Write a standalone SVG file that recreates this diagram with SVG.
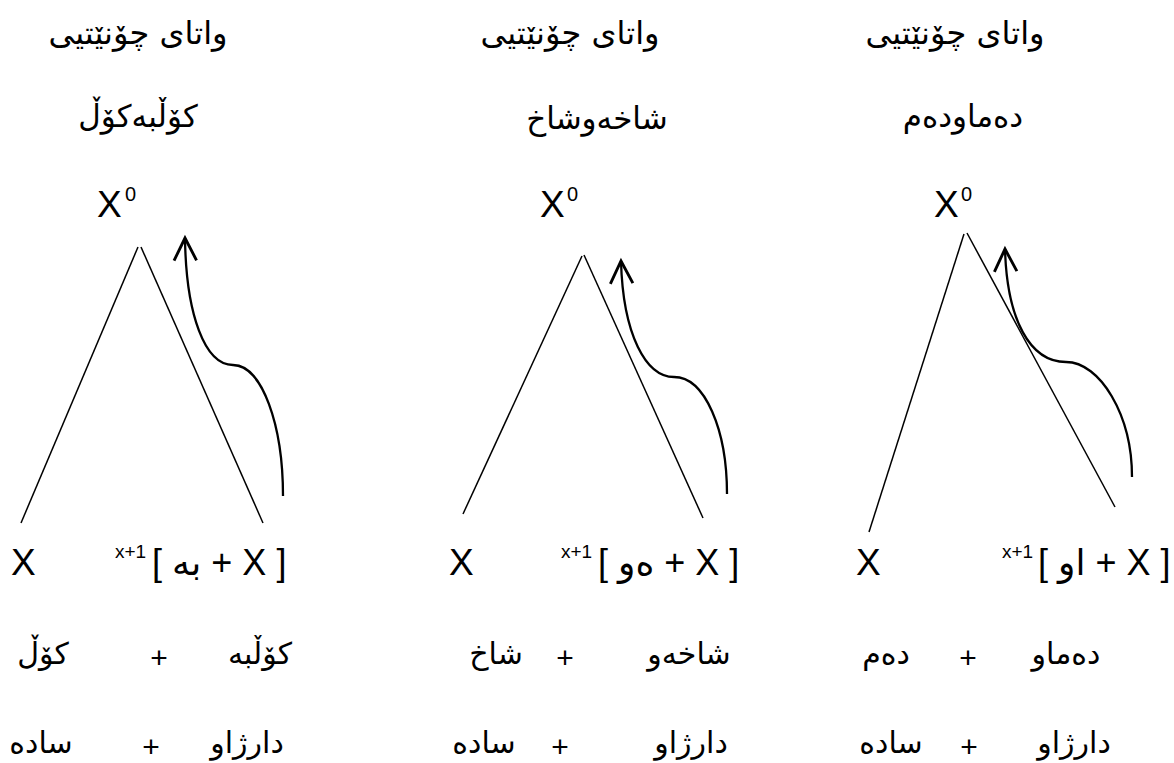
<svg xmlns="http://www.w3.org/2000/svg" width="1174" height="763" viewBox="0 0 1174 763">
<style>
.ar{font-family:"DejaVu Sans","Noto Sans",sans-serif;font-size:30px;fill:#000;direction:rtl;text-anchor:middle}
.tt{font-size:32px}
.st{font-size:31px}
.big{font-family:"Liberation Sans","DejaVu Sans",sans-serif;font-size:37px;fill:#000}
.br{font-family:"Liberation Sans","DejaVu Sans",sans-serif;font-size:36px;fill:#000;direction:ltr}
.sup{font-family:"Liberation Sans",sans-serif;font-size:19px;fill:#000}
.sup0{font-family:"Liberation Sans",sans-serif;font-size:20px;fill:#000}
.pl{font-family:"Liberation Sans",sans-serif;font-size:30px;fill:#000;text-anchor:middle}
.tl{stroke:#000;stroke-width:1.5;fill:none}
.ar-c{stroke:#000;stroke-width:2.3;fill:none;marker-end:url(#chev)}
</style>
<defs>
<marker id="chev" markerUnits="userSpaceOnUse" markerWidth="30" markerHeight="30" refX="0" refY="0" viewBox="-20 -12 24 24" orient="auto" overflow="visible">
<path d="M-18,-9 L0,0 L-18,9" fill="none" stroke="#000" stroke-width="2.3"/>
</marker>
</defs>
<rect width="1174" height="763" fill="#fff"/>

<g id="col1">
<text class="ar tt" x="138" y="44">واتای چۆنێتیی</text>
<text class="ar st" x="138" y="127">کۆڵبەکۆڵ</text>
<text class="big" x="97" y="217">X</text><text class="sup0" x="125" y="201">0</text>
<text class="big" x="11" y="575">X</text>
<text class="sup" x="115" y="558">x+1</text>
<text class="br" x="152" y="575">[ به + X ]</text>
<text class="ar" x="43" y="664">کۆڵ</text>
<text class="pl" x="159" y="668">+</text>
<text class="ar" x="260" y="664">کۆڵبە</text>
<text class="ar" x="41" y="753">سادە</text>
<text class="pl" x="151" y="757">+</text>
<text class="ar" x="247" y="753">دارژاو</text>
</g>

<g id="col2">
<text class="ar tt" x="570" y="44">واتای چۆنێتیی</text>
<text class="ar st" x="597" y="129">شاخەوشاخ</text>
<text class="big" x="540" y="217">X</text><text class="sup0" x="567" y="201">0</text>
<text class="big" x="449" y="575">X</text>
<text class="sup" x="561" y="558">x+1</text>
<text class="br" x="598" y="575">[ ەو + X ]</text>
<text class="ar" x="496" y="664">شاخ</text>
<text class="pl" x="565" y="668">+</text>
<text class="ar" x="689" y="664">شاخەو</text>
<text class="ar" x="484" y="753">سادە</text>
<text class="pl" x="560" y="757">+</text>
<text class="ar" x="691" y="753">دارژاو</text>
</g>

<g id="col3">
<text class="ar tt" x="955" y="44">واتای چۆنێتیی</text>
<text class="ar st" x="963" y="127">دەماودەم</text>
<text class="big" x="934" y="217">X</text><text class="sup0" x="961" y="201">0</text>
<text class="big" x="856" y="575">X</text>
<text class="sup" x="1002" y="558">x+1</text>
<text class="br" x="1038" y="575">[ او + X ]</text>
<text class="ar" x="886" y="664">دەم</text>
<text class="pl" x="968" y="668">+</text>
<text class="ar" x="1066" y="664">دەماو</text>
<text class="ar" x="891" y="753">سادە</text>
<text class="pl" x="969" y="757">+</text>
<text class="ar" x="1074" y="753">دارژاو</text>
</g>

<g id="connectors">
<path class="tl" d="M138,247 L21,523"/>
<path class="tl" d="M141,247 L263,523"/>
<path class="tl" d="M582,256 L463,514"/>
<path class="tl" d="M584,255 L703,518"/>
<path class="tl" d="M964,234 L869,532"/>
<path class="tl" d="M967,233 L1115,507"/>
<path class="ar-c" d="M283,496 C283,425 262,365 233,365 C205,365 186,315 185,238"/>
<path class="ar-c" d="M727,494 C727,430 705,377 674,377 C646,377 623,335 621,261"/>
<path class="ar-c" d="M1132,477 C1132,415 1100,362 1066,362 C1030,362 1007,320 1005,249"/>
</g>
</svg>
